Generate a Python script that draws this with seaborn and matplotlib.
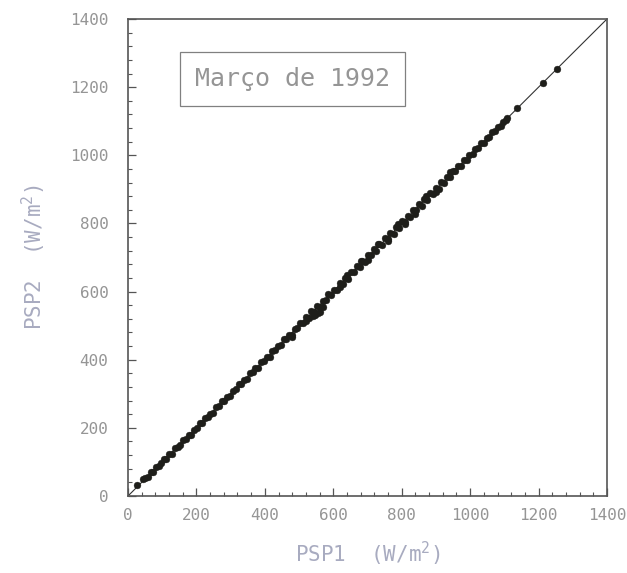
import matplotlib
matplotlib.use("Agg")
import matplotlib.pyplot as plt
from matplotlib.ticker import MultipleLocator
import seaborn as sns
import pandas as pd

psp1 = [26, 44, 51, 58, 66, 73, 81, 90, 97, 105, 112, 121, 128, 136, 145, 152, 160, 169, 177, 184,
        193, 201, 209, 216, 225, 233, 241, 249, 257, 266, 274, 281, 290, 298, 306, 315, 323, 331, 339, 348,
        356, 364, 372, 381, 389, 397, 405, 414, 422, 430, 438, 447, 455, 463, 470, 479, 487, 495, 503, 512,
        520, 528, 536, 545, 553, 561, 569, 578, 586, 594, 602, 611, 619, 627, 635, 644, 652, 660, 668, 677,
        685, 693, 701, 710, 718, 726, 734, 743, 751, 759, 767, 776, 784, 792, 800, 809, 817, 825, 833, 842,
        850, 858, 866, 875, 883, 891, 899, 908, 916, 924, 932, 941, 949, 957, 965, 974, 982, 990, 998, 1007,
        1015, 1023, 1031, 1040, 1048, 1056, 1064, 1073, 1081, 1089, 1097, 1104, 1108, 1137, 1213, 1254,
        620, 640, 700, 730, 790, 810, 870, 900, 940, 760, 680, 840,
        548, 556, 562, 540, 570, 520, 478]
psp2 = [32, 50, 53, 57, 69, 71, 85, 87, 98, 110, 109, 123, 124, 140, 145, 149, 165, 167, 180, 180,
        195, 200, 213, 213, 230, 231, 242, 245, 260, 265, 278, 278, 292, 293, 309, 315, 328, 328, 341, 344,
        360, 363, 375, 377, 394, 395, 407, 409, 426, 429, 441, 443, 460, 460, 472, 473, 491, 493, 509, 509,
        524, 523, 543, 541, 558, 555, 573, 575, 592, 589, 605, 605, 626, 623, 640, 637, 658, 657, 676, 672,
        689, 686, 707, 706, 726, 720, 739, 736, 758, 755, 773, 768, 789, 787, 808, 803, 821, 818, 840, 838,
        856, 851, 871, 870, 890, 885, 903, 902, 922, 920, 937, 936, 955, 954, 969, 969, 987, 987, 1002, 1003,
        1018, 1021, 1035, 1037, 1050, 1054, 1067, 1070, 1083, 1087, 1099, 1103, 1109, 1139, 1212, 1253,
        612, 648, 692, 741, 799, 798, 880, 891, 950, 748, 690, 829,
        532, 536, 541, 527, 556, 514, 466]

df = pd.DataFrame({"PSP1": psp1, "PSP2": psp2})

sns.set_theme(style="white")
plt.rcParams['font.family'] = ['DejaVu Sans Mono', 'DejaVu Sans']
plt.rcParams['mathtext.default'] = 'regular'

fig = plt.figure(figsize=(6.27, 5.73), dpi=100)
ax = fig.add_axes([128/627, 77/573, 479/627, 477/573])

ax.plot([0, 1400], [0, 1400], color="#333333", lw=0.8, zorder=1)
sns.scatterplot(data=df, x="PSP1", y="PSP2", ax=ax, color="#1e1e1a", s=24,
                edgecolor="#1e1e1a", linewidth=0.3, zorder=2)

ax.set_xlim(0, 1400)
ax.set_ylim(0, 1400)
ax.xaxis.set_major_locator(MultipleLocator(200))
ax.yaxis.set_major_locator(MultipleLocator(200))
ax.xaxis.set_minor_locator(MultipleLocator(40))
ax.yaxis.set_minor_locator(MultipleLocator(40))
ax.tick_params(which="both", direction="in", top=False, right=False, left=True, bottom=True,
               color="#555555")
ax.tick_params(which="major", length=6, width=0.9, labelsize=11.5, labelcolor="#959595")
ax.tick_params(axis="y", which="major", pad=14)
ax.tick_params(axis="x", which="major", pad=9)
ax.tick_params(which="minor", length=3, width=0.8)
for sp in ax.spines.values():
    sp.set_color("#555555")
    sp.set_linewidth(1.2)

ax.set_xlabel("PSP1  (W/m$^2$)", fontsize=15, color="#a8abc0", labelpad=12)
ax.set_ylabel("PSP2  (W/m$^2$)", fontsize=15, color="#a8abc0", labelpad=16)

ax.text(480, 1225, "Março de 1992", fontsize=18, color="#959595", ha="center", va="center",
        bbox=dict(boxstyle="square,pad=0.6", facecolor="white", edgecolor="#808080", linewidth=0.9))

fig.savefig("out.png", dpi=100)
